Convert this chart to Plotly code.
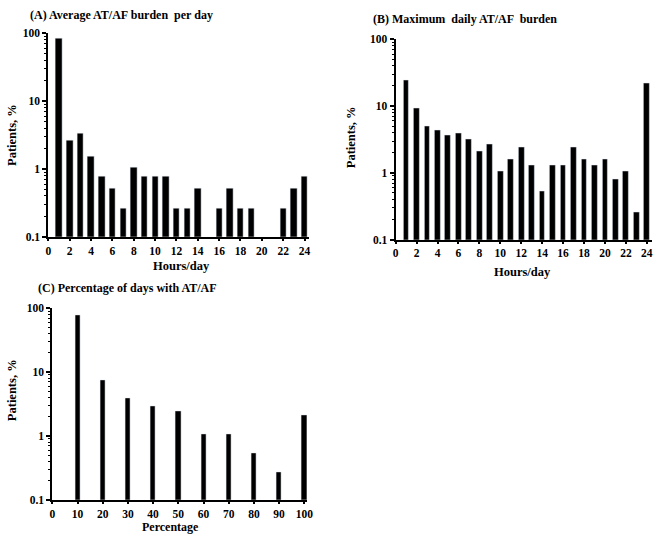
import plotly.graph_objects as go

# ---- data ----
hours = list(range(1, 25))
avg_burden = [83.6, 2.6, 3.39, 1.56, 0.78, 0.52, 0.26, 1.04, 0.78, 0.78, 0.78, 0.26,
              0.26, 0.52, None, 0.26, 0.52, 0.26, 0.26, None, None, 0.26, 0.52, 0.78]
max_burden = [24.0, 9.36, 5.0, 4.3, 3.7, 3.95, 3.15, 2.1, 2.65, 1.05, 1.58, 2.38,
              1.32, 0.53, 1.32, 1.32, 2.38, 1.58, 1.32, 1.58, 0.79, 1.05, 0.26, 21.6]
pct_days = [10, 20, 30, 40, 50, 60, 70, 80, 90, 100]
pct_vals = [76.5, 7.4, 3.96, 2.93, 2.43, 1.06, 1.06, 0.53, 0.27, 2.14]

hour_ticks = list(range(0, 25, 2))
pct_ticks = list(range(0, 101, 10))
y_ticks = [0.1, 1, 10, 100]
y_ticktext = ["0.1", "1", "10", "100"]
y_minor = [m * 10 ** e for e in (-1, 0, 1) for m in range(2, 10)]

W, H = 666, 541
FONT = "Liberation Serif"

fig = go.Figure()
fig.add_trace(go.Bar(x=hours, y=avg_burden, width=0.6, marker_color="black",
                     xaxis="x", yaxis="y", showlegend=False))
fig.add_trace(go.Bar(x=hours, y=max_burden, width=0.55, marker_color="black",
                     xaxis="x2", yaxis="y2", showlegend=False))
fig.add_trace(go.Bar(x=pct_days, y=pct_vals, width=2.1, marker_color="black",
                     xaxis="x3", yaxis="y3", showlegend=False))


def px(v):
    return v / W


def py(v):
    return 1 - v / H


tickfont = dict(family=FONT, size=11.5, color="black", weight="bold")

common_x = dict(showline=True, linecolor="black", linewidth=2, ticks="outside",
                ticklen=2, tickwidth=1.5, tickcolor="black", showgrid=False,
                zeroline=False, tickfont=tickfont)
common_y = dict(type="log", range=[-1, 2], showline=True, linecolor="black",
                linewidth=2, ticks="outside", ticklen=4, tickwidth=1.5,
                tickcolor="black", showgrid=False, zeroline=False,
                tickmode="array", tickvals=y_ticks, ticktext=y_ticktext,
                tickfont=tickfont,
                minor=dict(tickmode="array", tickvals=y_minor, ticks="outside",
                           ticklen=2, tickwidth=1, tickcolor="black", showgrid=False))

fig.update_layout(
    width=W, height=H, margin=dict(l=0, r=0, t=0, b=0),
    plot_bgcolor="white", paper_bgcolor="white", bargap=0,
    xaxis=dict(domain=[px(46), px(310)], range=[0, 24.4], tickmode="array",
               tickvals=hour_ticks, anchor="y", **common_x),
    yaxis=dict(domain=[py(236), py(28)], anchor="x", **common_y),
    xaxis2=dict(domain=[px(398), px(658)], range=[0, 24.5], tickmode="array",
                tickvals=hour_ticks, anchor="y2", **common_x),
    yaxis2=dict(domain=[py(239), py(34)], anchor="x2", **common_y),
    xaxis3=dict(domain=[px(50), px(308)], range=[0, 101], tickmode="array",
                tickvals=pct_ticks, anchor="y3", **common_x),
    yaxis3=dict(domain=[py(505), py(309)], anchor="x3", **common_y),
)

titlefont = dict(family=FONT, size=12, color="black")
labfont = dict(family=FONT, size=12.5, color="black")


def ann(text, x, y, font, xanchor="left", textangle=0, yanchor="middle"):
    fig.add_annotation(text=text, x=px(x), y=py(y), xref="paper", yref="paper",
                       xanchor=xanchor, yanchor=yanchor, showarrow=False,
                       font=font, textangle=textangle, borderpad=0)


ann("<b>(A) Average AT/AF burden  per day</b>", 26, 9, titlefont)
ann("<b>(B) Maximum  daily AT/AF  burden</b>", 374, 13, titlefont)
ann("<b>(C) Percentage of days with AT/AF</b>", 34, 288, titlefont)

ann("<b>Patients, %</b>", 9, 132, labfont, xanchor="center", textangle=-90)
ann("<b>Patients, %</b>", 353, 134, labfont, xanchor="center", textangle=-90)
ann("<b>Patients, %</b>", 9, 393, labfont, xanchor="center", textangle=-90)

ann("<b>Hours/day</b>", 181, 266, labfont, xanchor="center")
ann("<b>Hours/day</b>", 527, 272, labfont, xanchor="center")
ann("<b>Percentage</b>", 170, 533, dict(family=FONT, size=12, color="black"),
    xanchor="center")

fig.write_html("out.html", config={"displayModeBar": False},
               post_script="document.body.style.margin='0';"
                           "document.body.style.overflow='hidden';")
